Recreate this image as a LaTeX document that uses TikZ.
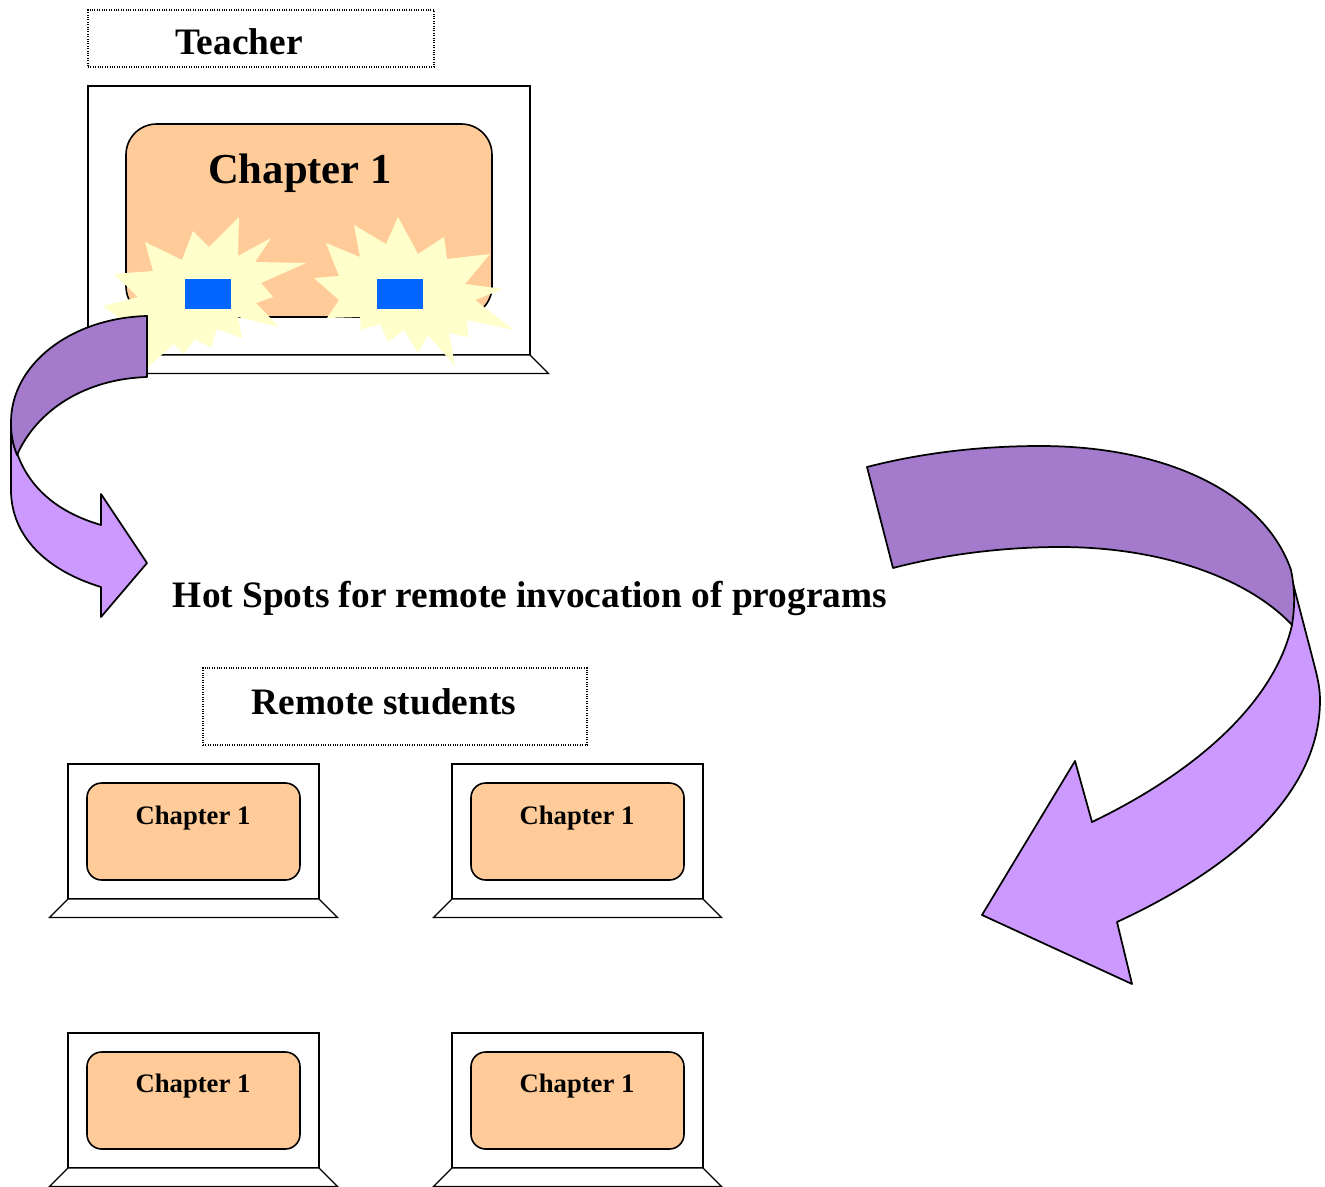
\documentclass[tikz,border=0pt]{standalone}
\usepackage{fontspec}
\setmainfont{Liberation Serif}
\definecolor{peach}{HTML}{FFCC99}
\definecolor{lilac}{HTML}{CC99FF}
\definecolor{darklilac}{HTML}{A37ACC}
\definecolor{spark}{HTML}{FFFFCC}
\definecolor{hotblue}{HTML}{0066FF}
\tikzset{
  dotbox/.style={draw, densely dotted, line width=0.8pt, inner sep=0pt, outer sep=0pt},
  screen/.style={draw, fill=white, line width=0.9pt, inner sep=0pt, outer sep=0pt, minimum width=188.25pt, minimum height=101.25pt},
  chapbox/.style={draw, fill=peach, line width=1.2pt, rounded corners=11pt, inner sep=0pt, outer sep=0pt, minimum width=159.75pt, minimum height=72.75pt},
  hotspot/.style={fill=hotblue, inner sep=0pt, outer sep=0pt, minimum width=34.5pt, minimum height=22.5pt},
  bigtext/.style={font=\fontsize{28}{30}\selectfont\bfseries, inner sep=0pt},
  smalltext/.style={font=\fontsize{20}{24}\selectfont\bfseries, inner sep=0pt},
  ribbon/.style={draw, line width=1.3pt, line join=round}
}
\begin{document}
\begin{tikzpicture}[x=0.75pt, y=-0.75pt]
\useasboundingbox (0,0) rectangle (1325,1186);
\begin{scope}
\clip (0,0) rectangle (1325,1186);

% teacher
\node[dotbox, minimum width=259.5pt, minimum height=42.75pt] (tbox) at (261,38.5) {};
\node[bigtext] (tlabel) at (239,42) {Teacher};
\node[screen, minimum width=331.5pt, minimum height=201.75pt] (s0) at (309,220.5) {};
\draw[fill=white, line width=0.9pt] (s0.south west) -- (s0.south east) -- ++(18.5,18.5) -- ++(-480,0) -- cycle;
\node[chapbox, rounded corners=23pt, minimum width=274.5pt, minimum height=144.75pt] (c0) at (309,220.5) {};
\node[font=\fontsize{32}{36}\selectfont\bfseries, inner sep=0pt] (c0label) at (300,173.5) {Chapter 1};

% sparks
\fill[spark] (239,217) -- (238,256) -- (271,238) -- (255,262) -- (306,263) -- (261,283) -- (273,297) -- (256,303) -- (279,327) -- (238,317) -- (242,338) -- (217,329) -- (211,348) -- (195,339) -- (184,354) -- (174,344) -- (148,367) -- (135,330) -- (103,306) -- (138,297) -- (114,274) -- (153,271) -- (145,242) -- (182,260) -- (193,231) -- (209,247) -- cycle;
\fill[spark] (398,217) -- (418,254) -- (444,237) -- (447,259) -- (490,254) -- (465,284) -- (503,289) -- (475,300) -- (514,330) -- (467,320) -- (468,337) -- (449,333) -- (455,366) -- (428,335) -- (418,353) -- (404,330) -- (388,342) -- (380,324) -- (361,330) -- (360,317) -- (327,318) -- (339,300) -- (314,278) -- (339,276) -- (326,243) -- (360,257) -- (354,225) -- (386,244) -- cycle;
\node[hotspot] (h1) at (208,294) {};
\node[hotspot] (h2) at (400,294) {};

% small arrow
\draw[ribbon, fill=lilac] (17,453) .. controls (30,490) and (60,513) .. (101,525) -- (101,494) -- (147,563) -- (101,617) -- (101,587) .. controls (45,570) and (11,535) .. (11,490) -- (11,422) .. controls (11,435) and (13,445) .. (17,453) -- cycle;
\draw[ribbon, fill=darklilac] (147,316) .. controls (70,318) and (11,365) .. (11,422) .. controls (11,435) and (13,445) .. (17,455) .. controls (37,410) and (85,379) .. (147,377) -- cycle;

% big arrow
\draw[ribbon, fill=lilac] (1292,625) .. controls (1275,700) and (1200,770) .. (1092,822) -- (1075,761) -- (982,915) -- (1132,984) -- (1117,922) .. controls (1240,865) and (1320,790) .. (1320,700) .. controls (1320,685) and (1316,672) .. (1313,660) -- (1289,568) -- cycle;
\draw[ribbon, fill=darklilac] (867,467) .. controls (925,452) and (985,446) .. (1040,446) .. controls (1170,446) and (1265,495) .. (1291,570) .. controls (1295,590) and (1295,605) .. (1292,625) .. controls (1250,580) and (1165,547) .. (1060,547) .. controls (1010,547) and (950,553) .. (893,568) -- cycle;

\node[bigtext] (hotlabel) at (530,598) {Hot Spots for remote invocation of programs};

% students
\node[dotbox, minimum width=288pt, minimum height=57.75pt] (rbox) at (395,706.5) {};
\node[bigtext] (rlabel) at (384,702) {Remote students};

\node[screen] (s1) at (193.5,831.5) {};
\draw[fill=white, line width=0.9pt] (s1.south west) -- (s1.south east) -- ++(18.5,18.5) -- ++(-288,0) -- cycle;
\node[chapbox] (c1) at (193.5,831.5) {};
\node[smalltext] (l1) at (193,818.5) {Chapter 1};

\node[screen] (s2) at (577.5,831.5) {};
\draw[fill=white, line width=0.9pt] (s2.south west) -- (s2.south east) -- ++(18.5,18.5) -- ++(-288,0) -- cycle;
\node[chapbox] (c2) at (577.5,831.5) {};
\node[smalltext] (l2) at (577,818.5) {Chapter 1};

\node[screen] (s3) at (193.5,1100.5) {};
\draw[fill=white, line width=0.9pt] (s3.south west) -- (s3.south east) -- ++(18.5,18.5) -- ++(-288,0) -- cycle;
\node[chapbox] (c3) at (193.5,1100.5) {};
\node[smalltext] (l3) at (193,1086.5) {Chapter 1};

\node[screen] (s4) at (577.5,1100.5) {};
\draw[fill=white, line width=0.9pt] (s4.south west) -- (s4.south east) -- ++(18.5,18.5) -- ++(-288,0) -- cycle;
\node[chapbox] (c4) at (577.5,1100.5) {};
\node[smalltext] (l4) at (577,1086.5) {Chapter 1};
\end{scope}
\end{tikzpicture}
\end{document}
